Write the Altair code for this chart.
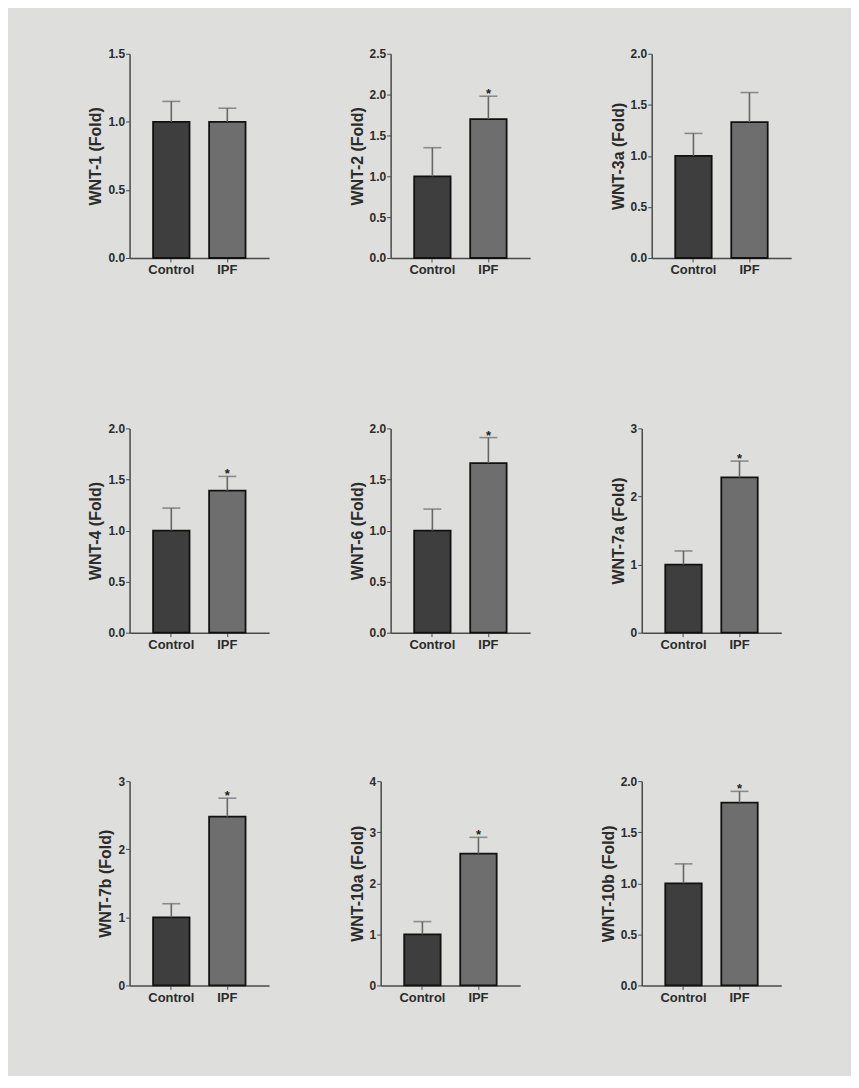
import altair as alt
import pandas as pd

genes = ["WNT-1", "WNT-2", "WNT-3a", "WNT-4", "WNT-6", "WNT-7a", "WNT-7b", "WNT-10a", "WNT-10b"]
groups = ["Control", "IPF"]
control_mean = [1.0, 1.0, 1.0, 1.0, 1.0, 1.0, 1.0, 1.0, 1.0]
control_err = [0.15, 0.35, 0.22, 0.22, 0.21, 0.20, 0.20, 0.25, 0.19]
ipf_mean = [1.0, 1.70, 1.33, 1.39, 1.66, 2.28, 2.48, 2.58, 1.79]
ipf_err = [0.10, 0.28, 0.29, 0.14, 0.25, 0.24, 0.27, 0.32, 0.11]
significant = [False, True, False, True, True, True, True, True, True]
y_max = [1.5, 2.5, 2.0, 2.0, 2.0, 3, 3, 4, 2.0]
y_ticks = [
    [0, 0.5, 1.0, 1.5],
    [0, 0.5, 1.0, 1.5, 2.0, 2.5],
    [0, 0.5, 1.0, 1.5, 2.0],
    [0, 0.5, 1.0, 1.5, 2.0],
    [0, 0.5, 1.0, 1.5, 2.0],
    [0, 1, 2, 3],
    [0, 1, 2, 3],
    [0, 1, 2, 3, 4],
    [0, 0.5, 1.0, 1.5, 2.0],
]
y_format = [".1f", ".1f", ".1f", ".1f", ".1f", "d", "d", "d", ".1f"]

FONT = "Liberation Sans"
TEXT = "#2b2b2b"
AXIS = "#4a4a4a"


def panel(i):
    df = pd.DataFrame({
        "group": groups,
        "mean": [control_mean[i], ipf_mean[i]],
        "top": [control_mean[i] + control_err[i], ipf_mean[i] + ipf_err[i]],
        "star": ["", "*" if significant[i] else ""],
    })
    x = alt.X("group:N", sort=groups,
              scale=alt.Scale(paddingInner=0.35, paddingOuter=0.42),
              axis=alt.Axis(title=None, labelAngle=0, labelFont=FONT, labelFontWeight="bold",
                            labelFontSize=13, labelColor=TEXT, domainColor=AXIS, domainWidth=1.5,
                            tickColor=AXIS, tickSize=4, labelPadding=2))
    yscale = alt.Scale(domain=[0, y_max[i]], nice=False)
    base = alt.Chart(df)
    bars = base.mark_bar(stroke="#111111", strokeWidth=1.8).encode(
        x=x,
        y=alt.Y("mean:Q", scale=yscale,
                axis=alt.Axis(title=f"{genes[i]} (Fold)", values=y_ticks[i], format=y_format[i],
                              grid=False, labelFont=FONT, labelFontWeight="bold", labelFontSize=12,
                              labelColor=TEXT, titleFont=FONT, titleFontWeight="bold",
                              titleFontSize=16, titleColor=TEXT, titlePadding=4,
                              domainColor=AXIS, domainWidth=1.5, tickColor=AXIS, tickSize=4,
                              labelPadding=1)),
        color=alt.Color("group:N", scale=alt.Scale(domain=groups, range=["#3e3e3e", "#6e6e6e"]),
                        legend=None),
    )
    rule = base.mark_rule(color="#666666", strokeWidth=1.6).encode(
        x=alt.X("group:N", sort=groups), y=alt.Y("mean:Q", scale=yscale), y2="top:Q")
    cap = base.mark_tick(color="#666666", thickness=1.6, size=18).encode(
        x=alt.X("group:N", sort=groups), y=alt.Y("top:Q", scale=yscale))
    star = base.mark_text(font=FONT, fontWeight="bold", fontSize=13, color="#222222",
                          baseline="bottom", dy=5).encode(
        x=alt.X("group:N", sort=groups), y=alt.Y("top:Q", scale=yscale), text="star:N")
    return alt.layer(bars, rule, cap, star).properties(width=140, height=205)


rows = [alt.hconcat(*[panel(r * 3 + c) for c in range(3)], spacing=80) for r in range(3)]
top = alt.vconcat(rows[0], rows[1], spacing=146)
chart = alt.vconcat(top, rows[2], spacing=124).properties(
    padding={"left": 80, "top": 38, "right": 60, "bottom": 70},
    background="#dedfdc",
).configure_view(stroke=None)

chart.save("out.html", embed_options={"renderer": "svg", "actions": False})
